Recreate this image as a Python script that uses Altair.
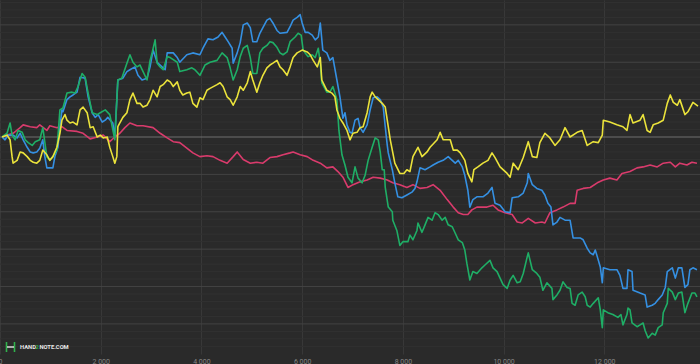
import altair as alt
import pandas as pd

# ---- series values (hands played vs. winnings) ----
pink_x = [40,140,260,400,460,600,730,790,930,990,
          1130,1230,1330,1530,1650,1790,1930,2050,2180,2280,
          2380,2480,2580,2720,2840,3040,3180,3320,3440,3570,
          3710,3830,3970,4110,4230,4370,4510,4630,4710,4830,
          4970,5100,5220,5360,5500,5620,5760,5820,5960,6100,
          6220,6360,6490,6610,6710,6810,6910,7010,7150,7290,
          7410,7550,7690,7800,7940,8080,8200,8340,8480,8600,
          8740,8880,9000,9100,9200,9290,9370,9470,9670,9790,
          9890,10030,10170,10270,10370,10490,10630,10760,10820,10920,
          11060,11180,11320,11420,11460,11580,11720,11860,11980,12110,
          12250,12350,12510,12650,12770,12910,13050,13170,13310,13410,
          13500,13640,13740,13840]
pink_y = [0,2,4,10,13,11,10,13,7,12,
          10,11,7,6,4,-2,0,2,-5,0,
          4,10,15,12,12,10,4,-1,-5,-6,
          -12,-17,-21,-20,-21,-25,-28,-21,-16,-24,
          -28,-27,-28,-22,-21,-19,-17,-16,-19,-21,
          -25,-28,-33,-32,-37,-43,-54,-51,-48,-46,
          -43,-44,-46,-49,-51,-54,-51,-55,-54,-51,
          -57,-67,-75,-81,-83,-83,-78,-75,-75,-73,
          -78,-81,-83,-91,-92,-87,-92,-91,-92,-81,
          -78,-75,-71,-71,-57,-55,-54,-49,-46,-44,
          -46,-39,-37,-33,-32,-30,-32,-28,-27,-32,
          -28,-30,-27,-28]

yellow_x = [40,140,200,240,260,340,400,460,540,600,
            660,730,790,850,930,990,1050,1130,1190,1230,
            1290,1330,1390,1450,1530,1590,1650,1730,1790,1850,
            1930,1990,2050,2130,2180,2240,2280,2320,2340,2380,
            2440,2520,2580,2640,2720,2780,2840,2920,2980,3040,
            3120,3180,3240,3320,3380,3440,3520,3570,3630,3710,
            3770,3830,3910,3970,4030,4110,4170,4310,4370,4430,
            4510,4570,4630,4710,4770,4830,4910,4970,5020,5100,
            5160,5220,5300,5360,5420,5500,5560,5620,5700,5760,
            5820,5900,6000,6100,6160,6220,6300,6360,6390,6490,
            6590,6650,6690,6750,6810,6890,6950,7010,7090,7150,
            7210,7290,7350,7390,7450,7510,7590,7650,7690,7750,
            7840,7940,8020,8080,8140,8200,8300,8380,8480,8540,
            8680,8740,8800,8880,8940,9000,9080,9140,9230,9290,
            9370,9410,9490,9590,9690,9770,9830,9930,10070,10130,
            10190,10290,10390,10490,10570,10660,10720,10820,10920,11020,
            11120,11220,11320,11460,11560,11660,11780,11880,11960,11980,
            12110,12250,12370,12450,12510,12570,12710,12770,12850,12910,
            12970,13070,13170,13250,13310,13370,13450,13500,13600,13660,
            13760,13860]
yellow_y = [0,2,-3,-21,-28,-25,-16,-17,-21,-25,
            -27,-28,-25,-14,-19,-25,-21,-11,4,18,
            24,18,15,16,13,29,32,26,10,11,
            0,2,-1,0,-11,-21,-28,-21,11,15,
            21,26,40,47,36,36,32,34,40,50,
            43,54,56,61,59,54,59,50,45,47,
            48,36,32,42,40,50,52,56,58,54,
            43,40,34,43,54,50,58,70,61,48,
            58,66,74,77,79,82,75,72,66,75,
            85,90,93,91,88,82,75,85,61,50,
            47,43,29,20,15,7,-3,4,5,10,
            11,26,43,48,43,40,36,32,18,-3,
            -28,-39,-39,-35,-37,-21,-11,-21,-16,-11,
            -3,5,-3,-3,-3,-14,-14,-17,-25,-39,
            -48,-35,-32,-28,-25,-17,-22,-32,-39,-43,
            -28,-35,-22,-5,-21,-22,-6,4,-1,-9,
            -3,10,0,5,7,-9,-5,-6,2,18,
            16,13,11,7,24,15,18,24,7,5,
            13,15,18,36,45,37,34,40,24,27,
            37,33]

blue_x = [40,100,160,260,340,400,460,540,600,660,
          730,790,850,890,930,990,1050,1090,1150,1190,
          1230,1250,1330,1390,1450,1530,1590,1690,1750,1830,
          1890,1950,2030,2090,2140,2240,2280,2320,2340,2440,
          2520,2580,2680,2740,2820,2920,2980,3040,3120,3180,
          3280,3320,3440,3520,3570,3710,3830,3970,4030,4130,
          4230,4330,4410,4470,4530,4610,4630,4710,4770,4830,
          4910,4970,5020,5100,5160,5220,5300,5360,5420,5500,
          5560,5700,5760,5820,5900,5960,6000,6060,6120,6200,
          6260,6320,6360,6410,6490,6550,6610,6690,6750,6810,
          6850,6890,6950,6990,7050,7110,7150,7210,7290,7350,
          7410,7490,7550,7610,7650,7690,7710,7790,7840,7900,
          7980,8080,8180,8240,8280,8340,8440,8540,8600,8700,
          8800,8900,8980,9040,9100,9180,9230,9290,9330,9390,
          9470,9590,9690,9770,9830,9930,10030,10130,10170,10290,
          10390,10470,10490,10570,10660,10760,10820,10880,10940,10980,
          11060,11120,11220,11320,11380,11520,11580,11660,11720,11780,
          11820,11860,11920,11960,11980,12110,12250,12310,12370,12450,
          12470,12550,12570,12710,12810,12850,12950,13010,13070,13150,
          13210,13250,13350,13410,13470,13540,13600,13660,13700,13760,
          13840]
blue_y = [0,-3,2,2,-1,4,-3,-11,-16,-17,
          -16,-12,-3,-21,-33,-33,-33,-21,-11,11,
          29,27,40,43,45,48,64,63,43,26,
          21,24,16,18,21,15,0,40,61,63,
          70,72,75,66,61,63,75,93,80,77,
          72,90,90,85,80,88,90,88,95,105,
          104,107,112,107,102,95,79,90,101,120,
          122,117,102,102,111,117,125,127,122,114,
          111,112,118,125,128,131,122,112,112,109,
          104,107,122,93,90,82,85,61,43,20,
          26,13,5,4,18,20,10,5,13,29,
          42,43,40,32,11,-9,-17,-35,-49,-64,
          -65,-62,-59,-55,-48,-33,-35,-32,-30,-27,
          -25,-21,-25,-28,-25,-32,-41,-57,-75,-67,
          -64,-64,-60,-54,-71,-73,-80,-81,-65,-64,
          -60,-49,-39,-51,-55,-57,-62,-71,-75,-94,
          -91,-86,-89,-89,-108,-108,-110,-119,-124,-126,
          -121,-128,-139,-156,-140,-142,-142,-148,-162,-162,
          -142,-144,-164,-167,-169,-182,-180,-178,-174,-169,
          -161,-144,-140,-151,-140,-140,-161,-158,-142,-140,
          -142]

green_x = [40,140,200,240,300,360,440,500,560,640,
           700,790,850,930,990,1050,1130,1190,1250,1330,
           1430,1490,1550,1630,1690,1750,1830,1930,1990,2090,
           2180,2280,2320,2340,2420,2520,2580,2640,2720,2780,
           2920,2980,3020,3080,3120,3180,3240,3320,3380,3520,
           3570,3710,3810,3870,3970,4070,4170,4310,4410,4510,
           4570,4630,4710,4770,4830,4910,4970,5020,5100,5160,
           5220,5300,5360,5420,5500,5560,5620,5700,5760,5860,
           5920,5980,6020,6060,6120,6200,6260,6320,6360,6390,
           6490,6550,6610,6690,6730,6790,6850,6910,6990,7050,
           7110,7190,7250,7310,7390,7450,7510,7550,7590,7630,
           7650,7710,7790,7800,7880,7940,8000,8100,8140,8200,
           8280,8300,8380,8440,8500,8580,8640,8700,8780,8840,
           8900,8980,9040,9100,9180,9230,9270,9330,9390,9470,
           9570,9630,9730,9790,9870,9930,9990,10070,10130,10190,
           10270,10330,10390,10470,10490,10570,10660,10720,10780,10860,
           10960,10980,11060,11120,11180,11260,11320,11360,11420,11480,
           11560,11620,11660,11720,11780,11880,11920,11960,11980,12070,
           12170,12270,12330,12370,12450,12470,12510,12550,12650,12710,
           12770,12810,12870,12950,13010,13070,13150,13170,13250,13270,
           13350,13410,13470,13540,13600,13660,13740,13800,13840]
green_y = [0,4,15,2,-3,7,5,-3,-6,-9,
           -5,-3,10,-21,-25,-21,-14,29,31,47,
           48,47,54,68,64,47,26,24,26,29,
           24,-3,40,61,63,79,88,80,75,77,
           61,82,90,104,79,75,72,86,85,80,
           70,72,74,72,66,77,80,82,90,85,
           74,61,72,86,95,98,85,68,68,90,
           95,98,102,101,96,90,88,91,102,107,
           111,109,93,90,86,88,85,95,79,58,
           48,48,54,40,7,-19,-30,-43,-49,-32,
           -44,-49,-41,-25,-11,-1,-3,-16,-35,-35,
           -54,-75,-80,-89,-100,-116,-112,-112,-105,-110,
           -100,-92,-102,-94,-86,-89,-81,-83,-89,-86,
           -94,-96,-103,-110,-113,-121,-135,-153,-144,-146,
           -140,-137,-132,-140,-144,-151,-158,-162,-153,-148,
           -156,-155,-146,-128,-124,-142,-146,-150,-164,-156,
           -162,-174,-169,-164,-155,-161,-162,-178,-180,-169,
           -166,-171,-180,-182,-178,-172,-185,-204,-185,-188,
           -190,-193,-190,-201,-190,-183,-185,-199,-203,-201,
           -199,-207,-215,-210,-212,-204,-201,-188,-178,-162,
           -166,-174,-167,-166,-188,-178,-167,-167,-171]

x_ticks = [0, 2000, 4000, 6000, 8000, 10000, 12000]
y_major = [-200, -160, -120, -80, -40, 40, 80, 120]
y_minor = [v for v in range(-224, 147, 8) if v % 40 != 0]
y_zero = [0]

X_DOMAIN = [0, 13900]
Y_DOMAIN = [-232.2, 146.6]

x_scale = alt.Scale(domain=X_DOMAIN, nice=False, zero=False)
y_scale = alt.Scale(domain=Y_DOMAIN, nice=False, zero=False)

x_enc = alt.X(
    "hands:Q",
    scale=x_scale,
    axis=alt.Axis(
        values=x_ticks,
        labelExpr="replace(format(datum.value, ','), ',', ' ')",
        grid=True, gridColor="#383838", gridWidth=1,
        domain=False, ticks=False, labelFlush=False,
        labelColor="#858585", labelFontSize=7, labelFont="Roboto",
        labelPadding=3, title=None,
    ),
)
y_enc = alt.Y("value:Q", scale=y_scale, axis=None)


def hrules(values, color, width):
    df = pd.DataFrame({"value": values})
    return alt.Chart(df).mark_rule(color=color, strokeWidth=width).encode(
        y=alt.Y("value:Q", scale=y_scale, axis=None))


def series(xs, ys, color):
    df = pd.DataFrame({"hands": xs, "value": ys})
    return alt.Chart(df).mark_line(color=color, strokeWidth=1.6, clip=True,
                                   strokeJoin="round").encode(x=x_enc, y=y_enc)


# watermark
wm_style = dict(align="left", baseline="middle", fontSize=5.8, fontWeight="bold", font="Roboto")
wm1 = alt.Chart().mark_text(color="#e8e8e8", **wm_style).encode(
    x=alt.value(20), y=alt.value(347), text=alt.value("HAND"))
wm2 = alt.Chart().mark_text(color="#2fb24c", **wm_style).encode(
    x=alt.value(35.6), y=alt.value(347), text=alt.value("2"))
wm3 = alt.Chart().mark_text(color="#e8e8e8", **wm_style).encode(
    x=alt.value(39.4), y=alt.value(347), text=alt.value("NOTE.COM"))
logo_l = alt.Chart().mark_rule(color="#2fb24c", strokeWidth=1.6).encode(
    x=alt.value(6.5), y=alt.value(342), y2=alt.value(352))
logo_r = alt.Chart().mark_rule(color="#2fb24c", strokeWidth=1.6).encode(
    x=alt.value(14.5), y=alt.value(342), y2=alt.value(352))
logo_c = alt.Chart().mark_rule(color="#e8e8e8", strokeWidth=1.4).encode(
    x=alt.value(7), x2=alt.value(14), y=alt.value(347))

chart = alt.layer(
    hrules(y_minor, "#313131", 1),
    hrules(y_major, "#434343", 1),
    hrules(y_zero, "#6e6e6e", 1.2),
    series(pink_x, pink_y, "#d93b6c"),
    series(blue_x, blue_y, "#3590e2"),
    series(green_x, green_y, "#1fae66"),
    series(yellow_x, yellow_y, "#ebe33b"),
    logo_l, logo_r, logo_c, wm1, wm2, wm3,
).properties(
    width=700, height=354,
    autosize=alt.AutoSizeParams(type="none"),
    padding={"left": 0, "top": 0, "right": 0, "bottom": 10},
    background="#2a2a2a",
).configure_view(stroke=None)

chart.save("out.html", embed_options={"renderer": "svg", "actions": False})
